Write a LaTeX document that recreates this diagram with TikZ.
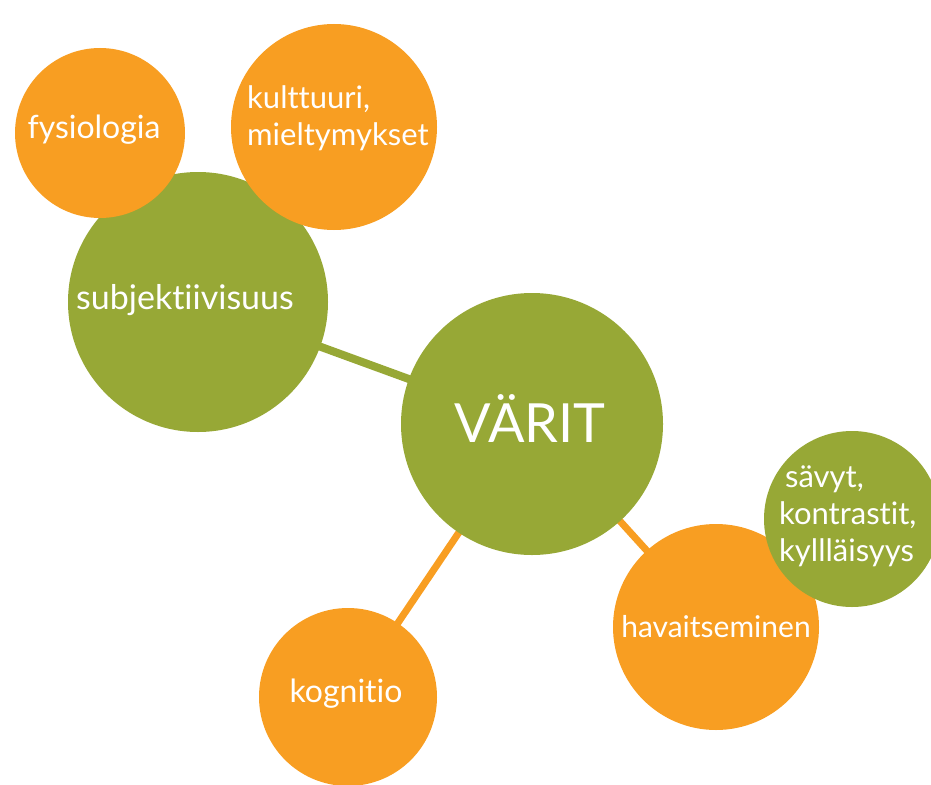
\documentclass[tikz,border=0pt]{standalone}
\usepackage{fontspec}
\setmainfont[Ligatures={NoCommon}]{Lato}
\usetikzlibrary{backgrounds}
\definecolor{vgreen}{RGB}{151,168,54}
\definecolor{vorange}{RGB}{248,158,34}
\tikzset{
  bubble/.style={circle, inner sep=0pt, minimum size=#1},
  gbub/.style={bubble=#1, fill=vgreen},
  obub/.style={bubble=#1, fill=vorange},
  txt/.style={text=white, inner sep=0pt, font=\fontsize{32}{37}\selectfont},
  glink/.style={draw=vgreen, line width=8pt},
  olink/.style={draw=vorange, line width=7pt},
}
\begin{document}
\begin{tikzpicture}[x=1pt,y=-1pt]
\useasboundingbox (0,0) rectangle (931,784);
\begin{scope}
\clip (0,0) rectangle (931,784);
% circles
\node[gbub=260] (subj) at (198,302) {};
\node[obub=170] (fys) at (100,133) {};
\node[obub=206] (kult) at (334,127) {};
\node[gbub=262] (varit) at (532,424) {};
\node[obub=178] (kogn) at (348,697) {};
\node[obub=206] (hav) at (716,627) {};
\node[gbub=176] (savyt) at (852,519) {};
% connectors
\begin{pgfonlayer}{background}
\draw[glink] (subj.center) -- (varit.center);
\draw[olink] (varit.center) -- (kogn.center);
\draw[olink] (varit.center) -- (hav.center);
\end{pgfonlayer}
% texts
\node[txt, font=\fontsize{34}{40}\selectfont] (tsubj) at (185,300) {subjektiivisuus};
\node[txt] (tfys) at (94,130) {fysiologia};
\node[txt, align=left, anchor=west, font=\fontsize{31}{37}\selectfont] (tkult) at (247,118) {kulttuuri,\\mieltymykset};
\node[txt, font=\fontsize{54}{60}\selectfont] (tvarit) at (530,418) {VÄRIT};
\node[txt] (tkogn) at (346,694) {kognitio};
\node[txt, font=\fontsize{30}{37}\selectfont] (thav) at (716,627) {havaitseminen};
\node[txt, align=left, anchor=west, font=\fontsize{31}{37}\selectfont] (tsavyt) at (779,516) {\hspace*{6pt}sävyt,\\kontrastit,\\kyllläisyys};
\end{scope}
\end{tikzpicture}
\end{document}
